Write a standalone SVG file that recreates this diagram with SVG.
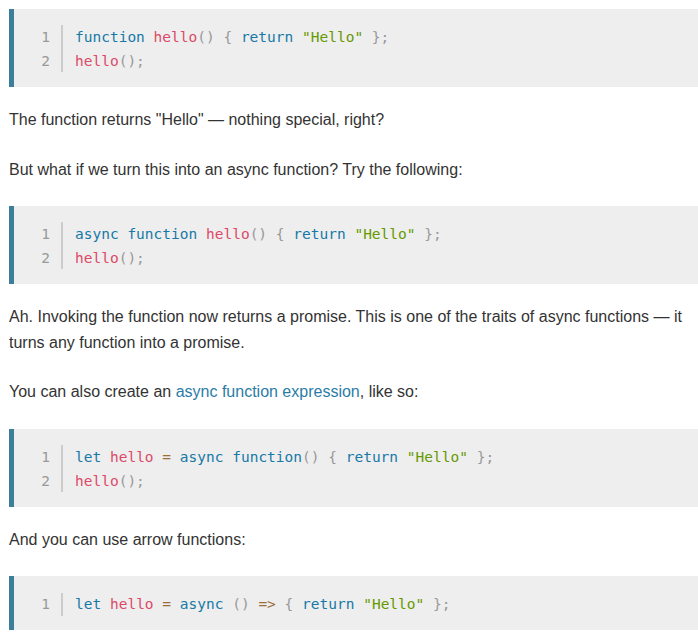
<svg xmlns="http://www.w3.org/2000/svg" width="698" height="640" viewBox="0 0 698 640">
<style>
.bg{fill:#eeeeee}.bar{fill:#3d7e9a}.div{stroke:#aaaaaa;stroke-width:1}
.code{font-family:"DejaVu Sans Mono",monospace;font-size:14.5px;fill:#999999}
.ln{font-family:"DejaVu Sans Mono",monospace;font-size:14.5px;fill:#999999;text-anchor:end}
.k{fill:#1679a7}.f{fill:#dd4a68}.s{fill:#669900}.o{fill:#9a6e3a}
.p{font-family:"Liberation Sans",Arial,sans-serif;font-size:16px;fill:#333333}
.a{fill:#2b7ca6}
</style>
<rect width="698" height="640" fill="#ffffff"/>
<g id="block1">
<rect class="bg" x="9" y="9" width="689" height="78"/><rect class="bar" x="9" y="9" width="5" height="78"/>
<line class="div" x1="62" y1="25" x2="62" y2="72"/>
<text class="ln" x="50" y="42">1</text><text class="ln" x="50" y="66">2</text>
<text class="code" x="75" y="42" xml:space="preserve"><tspan class="k">function</tspan> <tspan class="f">hello</tspan>() { <tspan class="k">return</tspan> <tspan class="s">"Hello"</tspan> };</text>
<text class="code" x="75" y="66"><tspan class="f">hello</tspan>();</text>
</g>
<text class="p" x="9" y="125">The function returns "Hello" — nothing special, right?</text>
<text class="p" x="9" y="175">But what if we turn this into an async function? Try the following:</text>
<g id="block2">
<rect class="bg" x="9" y="206" width="689" height="78"/><rect class="bar" x="9" y="206" width="5" height="78"/>
<line class="div" x1="62" y1="222" x2="62" y2="269"/>
<text class="ln" x="50" y="239">1</text><text class="ln" x="50" y="263">2</text>
<text class="code" x="75" y="239" xml:space="preserve"><tspan class="k">async</tspan> <tspan class="k">function</tspan> <tspan class="f">hello</tspan>() { <tspan class="k">return</tspan> <tspan class="s">"Hello"</tspan> };</text>
<text class="code" x="75" y="263"><tspan class="f">hello</tspan>();</text>
</g>
<text class="p" x="9" y="322">Ah. Invoking the function now returns a promise. This is one of the traits of async functions — it</text>
<text class="p" x="9" y="348">turns any function into a promise.</text>
<text class="p" x="9" y="397">You can also create an <tspan class="a">async function expression</tspan>, like so:</text>
<g id="block3">
<rect class="bg" x="9" y="429" width="689" height="78"/><rect class="bar" x="9" y="429" width="5" height="78"/>
<line class="div" x1="62" y1="445" x2="62" y2="492"/>
<text class="ln" x="50" y="462">1</text><text class="ln" x="50" y="486">2</text>
<text class="code" x="75" y="462" xml:space="preserve"><tspan class="k">let</tspan> <tspan class="f">hello</tspan> <tspan class="o">=</tspan> <tspan class="k">async</tspan> <tspan class="k">function</tspan>() { <tspan class="k">return</tspan> <tspan class="s">"Hello"</tspan> };</text>
<text class="code" x="75" y="486"><tspan class="f">hello</tspan>();</text>
</g>
<text class="p" x="9" y="545">And you can use arrow functions:</text>
<g id="block4">
<rect class="bg" x="9" y="576" width="689" height="54"/><rect class="bar" x="9" y="576" width="5" height="54"/>
<line class="div" x1="62" y1="593" x2="62" y2="616"/>
<text class="ln" x="50" y="609">1</text>
<text class="code" x="75" y="609" xml:space="preserve"><tspan class="k">let</tspan> <tspan class="f">hello</tspan> <tspan class="o">=</tspan> <tspan class="k">async</tspan> () <tspan class="o">=&gt;</tspan> { <tspan class="k">return</tspan> <tspan class="s">"Hello"</tspan> };</text>
</g>
</svg>
